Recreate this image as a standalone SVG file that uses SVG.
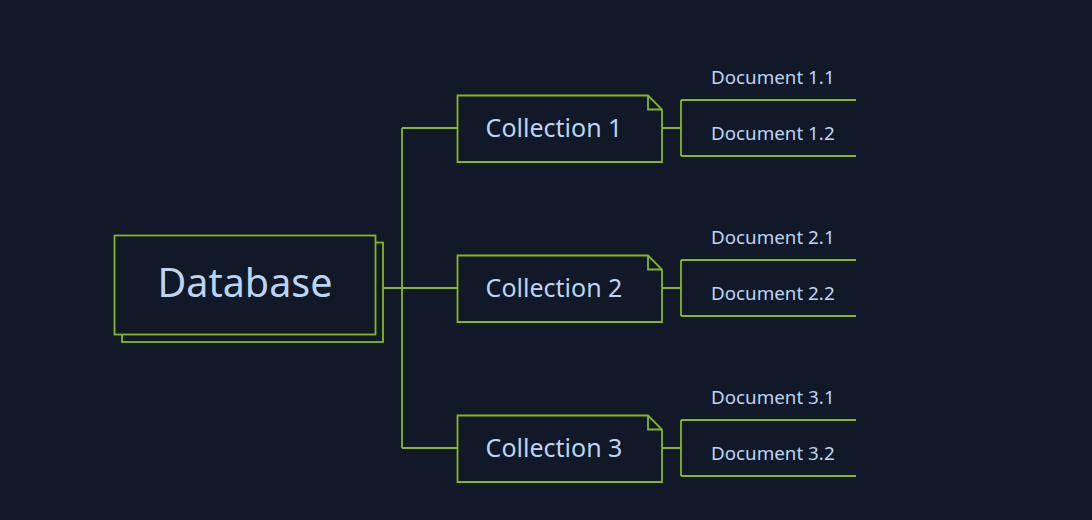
<svg xmlns="http://www.w3.org/2000/svg" width="1092" height="520" viewBox="0 0 1092 520">
  <style>
    .shape { fill: #111827; stroke: #84b81e; stroke-width: 1.8; }
    .line { fill: none; stroke: #84b81e; stroke-width: 1.8; }
    .t { fill: #bcd4f4; font-family: "Noto Sans", "Liberation Sans", sans-serif; }
    .db { font-size: 39.5px; text-anchor: middle; }
    .col { font-size: 25px; text-anchor: middle; }
    .doc { font-size: 18.8px; }
  </style>
  <rect width="1092" height="520" fill="#111827"/>
  <g id="connectors">
    <path class="line" d="M383,288 H402 M402,128 V448 M402,128 H457 M402,288 H457 M402,448 H457"/>
    <path class="line" d="M662,128 H681 M681,100 V156 M681,100 H856 M681,156 H856"/>
    <path class="line" d="M662,288 H681 M681,260 V316 M681,260 H856 M681,316 H856"/>
    <path class="line" d="M662,448 H681 M681,420 V476 M681,420 H856 M681,476 H856"/>
  </g>
  <g id="database">
    <rect class="shape" x="122" y="242.5" width="261" height="99.5"/>
    <rect class="shape" x="114.5" y="235.5" width="261" height="99"/>
    <text class="t db" x="245" y="297">Database</text>
  </g>
  <g id="collection1">
    <path class="shape" d="M457.5,95.5 H648 L662,109.5 V162 H457.5 Z"/>
    <path class="line" d="M648,95.5 V109.5 H662"/>
    <text class="t col" x="554" y="137">Collection 1</text>
  </g>
  <g id="collection2">
    <path class="shape" d="M457.5,255.5 H648 L662,269.5 V322 H457.5 Z"/>
    <path class="line" d="M648,255.5 V269.5 H662"/>
    <text class="t col" x="554" y="297">Collection 2</text>
  </g>
  <g id="collection3">
    <path class="shape" d="M457.5,415.5 H648 L662,429.5 V482 H457.5 Z"/>
    <path class="line" d="M648,415.5 V429.5 H662"/>
    <text class="t col" x="554" y="457">Collection 3</text>
  </g>
  <g id="doc11"><text class="t doc" x="711" y="84">Document 1.1</text></g>
  <g id="doc12"><text class="t doc" x="711" y="140">Document 1.2</text></g>
  <g id="doc21"><text class="t doc" x="711" y="244">Document 2.1</text></g>
  <g id="doc22"><text class="t doc" x="711" y="300">Document 2.2</text></g>
  <g id="doc31"><text class="t doc" x="711" y="404">Document 3.1</text></g>
  <g id="doc32"><text class="t doc" x="711" y="460">Document 3.2</text></g>
</svg>
